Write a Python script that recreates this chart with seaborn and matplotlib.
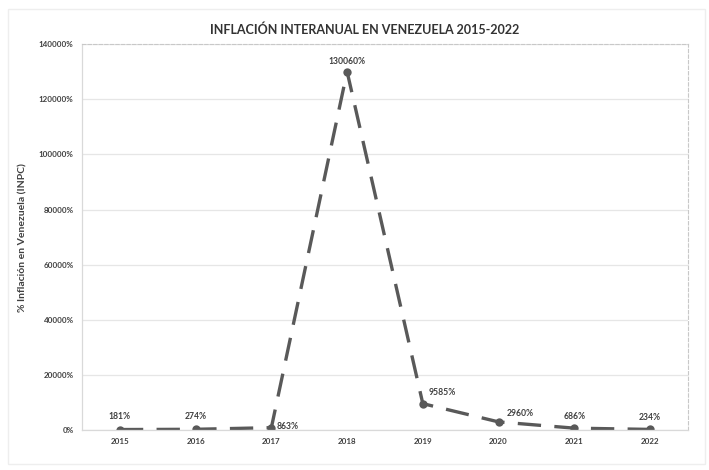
import matplotlib
matplotlib.use("Agg")
import matplotlib.pyplot as plt
import matplotlib.ticker as mticker
from matplotlib.patches import Rectangle
import seaborn as sns
import pandas as pd

years = ["2015", "2016", "2017", "2018", "2019", "2020", "2021", "2022"]
inflation = [181, 274, 863, 130060, 9585, 2960, 686, 234]
y_ticks = [0, 20000, 40000, 60000, 80000, 100000, 120000, 140000]

df = pd.DataFrame({"year": years, "inflation": inflation})

sns.set_theme(style="white")
plt.rcParams["font.family"] = ["Lato", "DejaVu Sans"]

fig = plt.figure(figsize=(7.09, 4.70), dpi=100)
ax = fig.add_axes([0.1157, 0.085, 0.8545, 0.821])

line_color = "#595959"
sns.lineplot(data=df, x="year", y="inflation", ax=ax, color=line_color,
             linewidth=2.4, marker="o", markersize=6, markeredgewidth=0,
             sort=False)
ax.lines[0].set_dashes([7, 4])

ax.set_xlim(-0.5, len(years) - 0.5)
ax.set_ylim(0, 140000)
ax.set_yticks(y_ticks)
ax.yaxis.set_major_formatter(mticker.FuncFormatter(lambda v, p: f"{int(v)}%"))
ax.tick_params(axis="both", labelsize=5.8, colors="#404040", length=0, pad=6)
for lbl in ax.get_xticklabels() + ax.get_yticklabels():
    lbl.set_fontweight("bold")

ax.grid(axis="y", color="#e6e6e6", linewidth=0.9)
ax.set_axisbelow(True)
for side in ["left", "bottom"]:
    ax.spines[side].set_color("#d9d9d9")
    ax.spines[side].set_linewidth(0.9)
for side in ["top", "right"]:
    ax.spines[side].set_color("#c8c8c8")
    ax.spines[side].set_linewidth(0.8)
    ax.spines[side].set_linestyle((0, (3, 2)))

ax.set_xlabel("")
ax.set_ylabel("% Inflación en Venezuela (INPC)", fontsize=7.5, fontweight="bold",
              color="#404040", labelpad=8)

# value labels for each point
offsets = {
    0: (0, 6, "center", "bottom"),
    1: (0, 6, "center", "bottom"),
    2: (4, 1, "left", "center"),
    3: (0, 4, "center", "bottom"),
    4: (4, 8, "left", "center"),
    5: (6, 3, "left", "bottom"),
    6: (0, 5, "center", "bottom"),
    7: (0, 5, "center", "bottom"),
}
for i, v in enumerate(inflation):
    dx, dy, ha, va = offsets[i]
    ax.annotate(f"{v}%", xy=(i, v), xytext=(dx, dy), textcoords="offset points",
                ha=ha, va=va, fontsize=6.2, fontweight="bold", color="#404040")

fig.suptitle("INFLACIÓN INTERANUAL EN VENEZUELA 2015-2022", x=0.515, y=0.95,
             fontsize=9, fontweight="bold", color="#333333")

# faint outer frame of the chart area
fig.patches.append(Rectangle((0.011, 0.012), 0.983, 0.968, transform=fig.transFigure,
                             fill=False, edgecolor="#eeeeee", linewidth=1))

fig.savefig("out.png", dpi=100, facecolor="white")
